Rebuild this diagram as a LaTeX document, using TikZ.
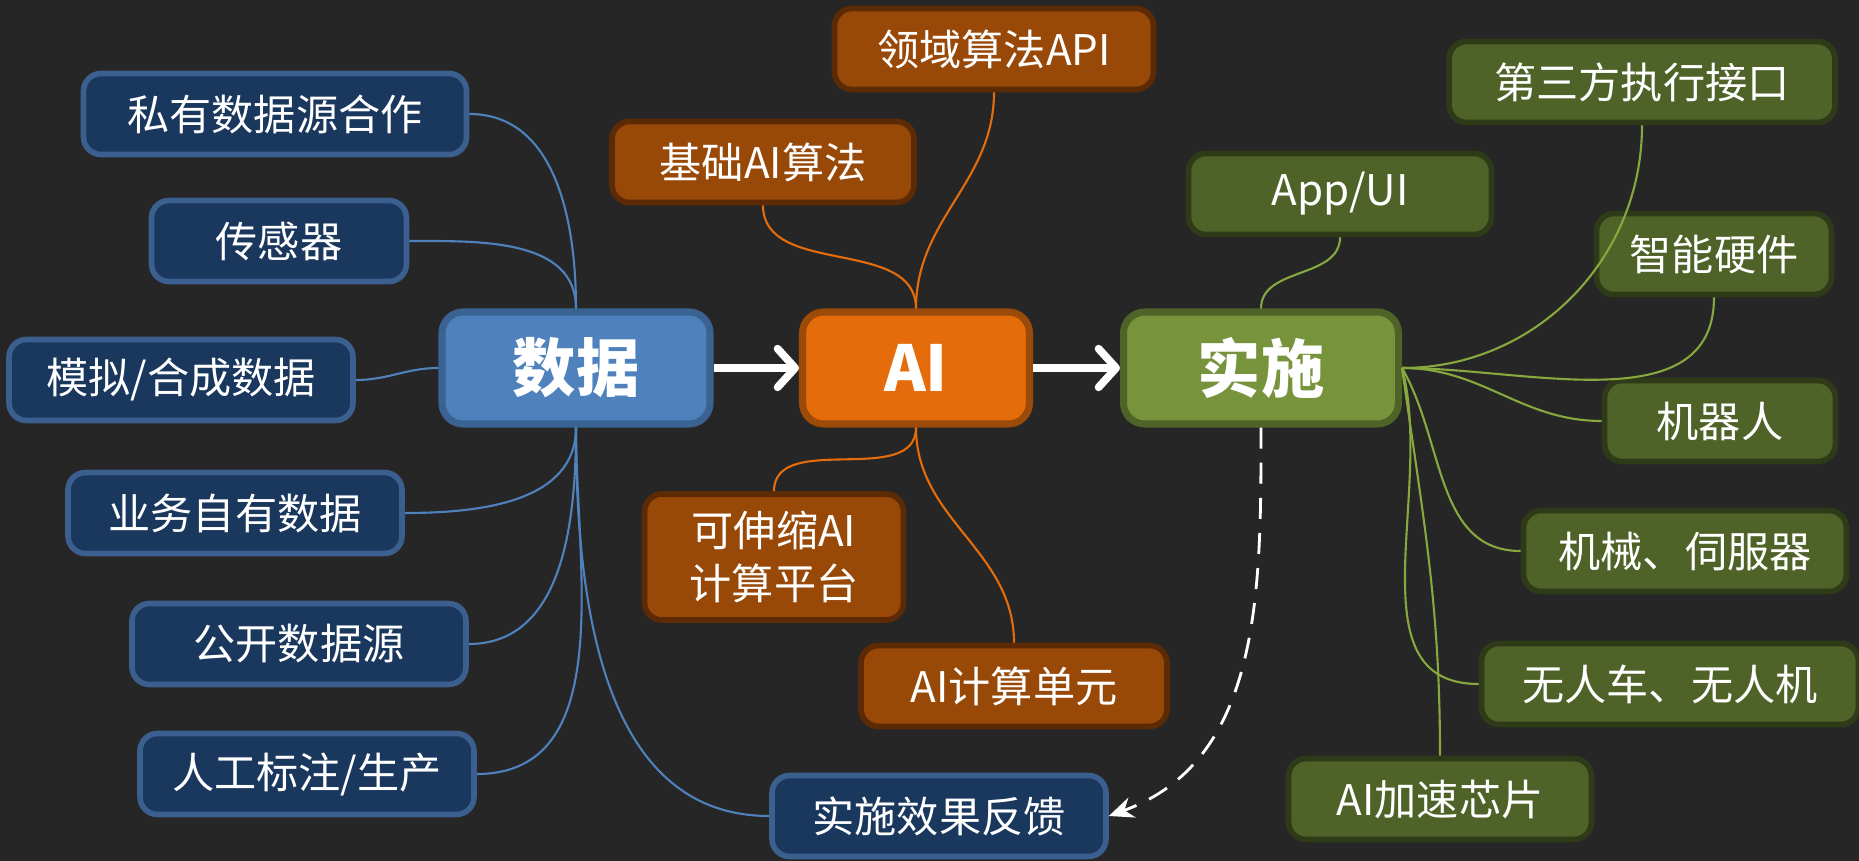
\documentclass[tikz,border=0pt]{standalone}
\usepackage{fontspec}
\setmainfont{Noto Sans CJK SC}
\usepackage{xcolor}
\usepackage{tikz}
\usetikzlibrary{arrows.meta}
\definecolor{bgc}{HTML}{262626}
\definecolor{bluefill}{HTML}{4F81BD}
\definecolor{blueedge}{HTML}{3A6393}
\definecolor{bluesubfill}{HTML}{1A375E}
\definecolor{bluesubedge}{HTML}{3B5F8E}
\definecolor{orangefill}{HTML}{E46C0A}
\definecolor{orangeedge}{HTML}{9B4A08}
\definecolor{orangesubfill}{HTML}{984807}
\definecolor{orangesubedge}{HTML}{5C2A05}
\definecolor{greenfill}{HTML}{77933C}
\definecolor{greenedge}{HTML}{4F6228}
\definecolor{greensubfill}{HTML}{4F6228}
\definecolor{greensubedge}{HTML}{2E3A18}
\definecolor{greenline}{HTML}{86A83E}
\tikzstyle{hub} = [rectangle, rounded corners=6pt, minimum height=1.12cm, inner sep=0pt, line width=2pt, text=white, font=\fontsize{18}{22}\selectfont\bfseries]
\tikzstyle{leaf} = [rectangle, rounded corners=5pt, minimum height=0.81cm, inner sep=0pt, line width=1.6pt, text=white, align=center, font=\fontsize{12}{15}\selectfont]
\tikzstyle{dataleaf} = [leaf, fill=bluesubfill, draw=bluesubedge]
\tikzstyle{aileaf} = [leaf, fill=orangesubfill, draw=orangesubedge]
\tikzstyle{implleaf} = [leaf, fill=greensubfill, draw=greensubedge]
\tikzstyle{flow} = [white, line width=2.2pt, -{Straight Barb[round,length=5pt,width=11pt]}]
\tikzstyle{blueline} = [bluefill, line width=0.6pt]
\tikzstyle{orangeline} = [orangefill, line width=0.6pt]
\tikzstyle{greenlink} = [greenline, line width=0.6pt]
\begin{document}
\begin{tikzpicture}
    \fill[bgc] (0,0) rectangle (18.59,-8.61);
    \useasboundingbox (0,0) rectangle (18.59,-8.61);

    % main chain
    \node[hub, fill=bluefill, draw=blueedge, minimum width=2.68cm] (data) at (5.76,-3.68) {数据};
    \node[hub, fill=orangefill, draw=orangeedge, minimum width=2.27cm] (ai) at (9.16,-3.68) {AI};
    \node[hub, fill=greenfill, draw=greenedge, minimum width=2.75cm] (impl) at (12.61,-3.68) {实施};

    \draw[flow] (data.east) -- (ai.west);
    \draw[flow] (ai.east) -- (impl.west);

    % data sources
    \node[dataleaf, minimum width=3.83cm] (private) at (2.75,-1.14) {私有数据源合作};
    \node[dataleaf, minimum width=2.55cm] (sensor) at (2.79,-2.41) {传感器};
    \node[dataleaf, minimum width=3.44cm] (synth) at (1.81,-3.80) {模拟/合成数据};
    \node[dataleaf, minimum width=3.34cm] (business) at (2.35,-5.13) {业务自有数据};
    \node[dataleaf, minimum width=3.34cm] (public) at (2.99,-6.44) {公开数据源};
    \node[dataleaf, minimum width=3.34cm] (label) at (3.07,-7.74) {人工标注/生产};
    \node[dataleaf, minimum width=3.34cm] (feedback) at (9.39,-8.16) {实施效果反馈};

    \draw[blueline] (data.north) to[out=90,in=0] (private.east);
    \draw[blueline] (data.north) to[out=90,in=0] (sensor.east);
    \draw[blueline] (data.west) to[out=180,in=0] (synth.east);
    \draw[blueline] (data.south) to[out=-90,in=0] (business.east);
    \draw[blueline] (data.south) to[out=-90,in=0] (public.east);
    \draw[blueline] (data.south) to[out=-90,in=0] (label.east);
    \draw[blueline] (data.south) to[out=-90,in=180] (feedback.west);

    % ai parts
    \node[aileaf, minimum width=3.02cm] (basealgo) at (7.63,-1.62) {基础AI算法};
    \node[aileaf, minimum width=3.19cm] (domainapi) at (9.94,-0.49) {领域算法API};
    \node[aileaf, minimum width=2.59cm, minimum height=1.26cm] (platform) at (7.74,-5.57) {可伸缩AI\\计算平台};
    \node[aileaf, minimum width=3.06cm] (unit) at (10.14,-6.86) {AI计算单元};

    \draw[orangeline] (ai.north) to[out=90,in=-90] (basealgo.south);
    \draw[orangeline] (ai.north) to[out=90,in=-90] (domainapi.south);
    \draw[orangeline] (ai.south) to[out=-90,in=90] (platform.north);
    \draw[orangeline] (ai.south) to[out=-90,in=90] (unit.north);

    % implementation targets
    \node[implleaf, minimum width=3.03cm] (appui) at (13.40,-1.94) {App/UI};
    \node[implleaf, minimum width=3.86cm] (thirdparty) at (16.42,-0.82) {第三方执行接口};
    \node[implleaf, minimum width=2.35cm] (hardware) at (17.14,-2.54) {智能硬件};
    \node[implleaf, minimum width=2.31cm] (robot) at (17.20,-4.21) {机器人};
    \node[implleaf, minimum width=3.23cm] (servo) at (16.85,-5.51) {机械、伺服器};
    \node[implleaf, minimum width=3.77cm] (vehicle) at (16.70,-6.84) {无人车、无人机};
    \node[implleaf, minimum width=3.03cm] (chip) at (14.40,-7.99) {AI加速芯片};

    \draw[greenlink] (impl.north) to[out=90,in=-90] (appui.south);
    \draw[greenlink] (impl.east) to[out=0,in=-90] (thirdparty.south);
    \draw[greenlink] (impl.east) to[out=0,in=-90] (hardware.south);
    \draw[greenlink] (impl.east) to[out=0,in=180] (robot.west);
    \draw[greenlink] (impl.east) to[out=-60,in=180] (servo.west);
    \draw[greenlink] (impl.east) to[out=-75,in=180] (vehicle.west);
    \draw[greenlink] (impl.east) to[out=-82,in=90] (chip.north);

    % feedback loop
    \draw[white, line width=0.8pt, dashed, dash pattern=on 6pt off 4pt, -{Stealth[length=7pt,width=6pt]}] (impl.south) to[out=-90,in=20] (feedback.east);
\end{tikzpicture}
\end{document}
